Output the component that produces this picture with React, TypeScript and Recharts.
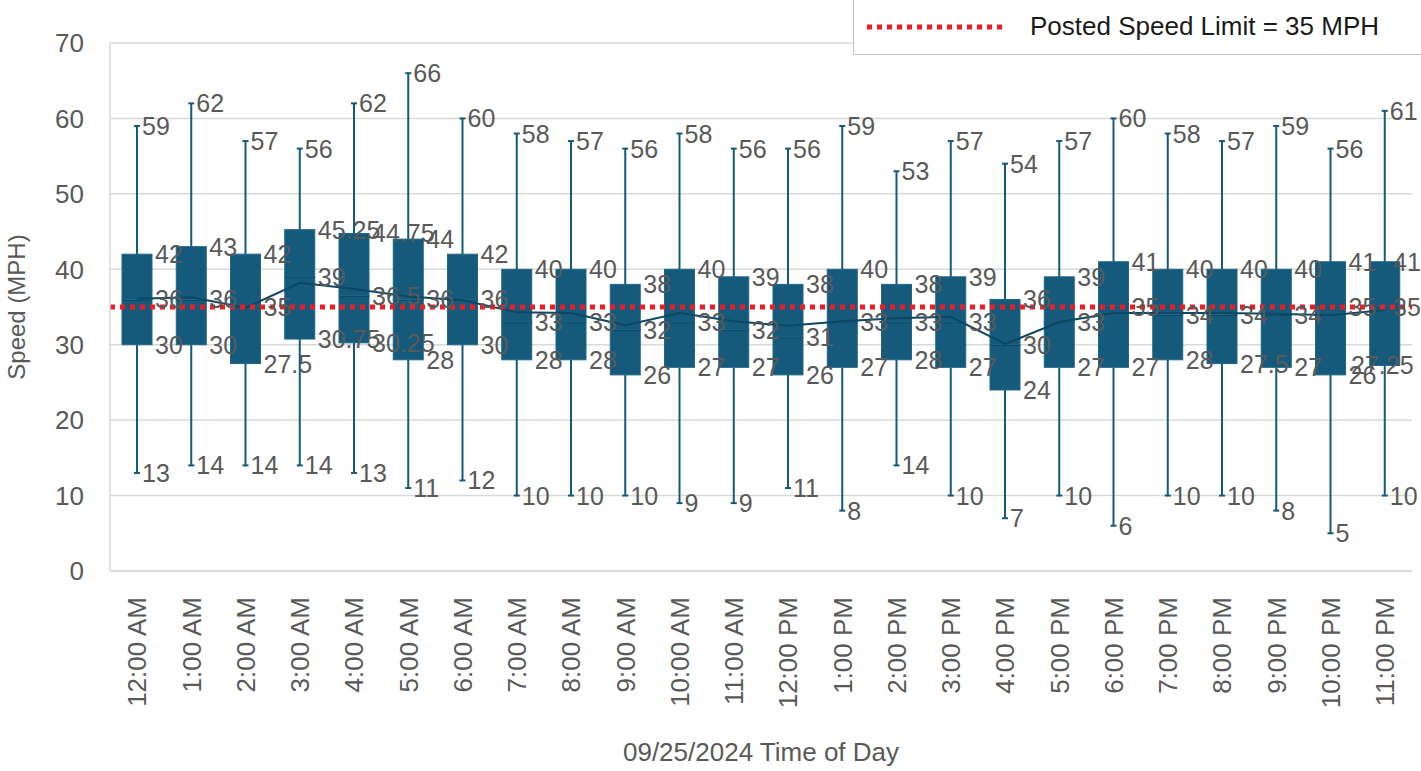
import { ComposedChart, Bar, Line, XAxis, YAxis, CartesianGrid, ReferenceLine, LabelList } from 'recharts';

const hours = [
  '12:00 AM', '1:00 AM', '2:00 AM', '3:00 AM', '4:00 AM', '5:00 AM',
  '6:00 AM', '7:00 AM', '8:00 AM', '9:00 AM', '10:00 AM', '11:00 AM',
  '12:00 PM', '1:00 PM', '2:00 PM', '3:00 PM', '4:00 PM', '5:00 PM',
  '6:00 PM', '7:00 PM', '8:00 PM', '9:00 PM', '10:00 PM', '11:00 PM',
];
const maxSpeed = [59, 62, 57, 56, 62, 66, 60, 58, 57, 56, 58, 56, 56, 59, 53, 57, 54, 57, 60, 58, 57, 59, 56, 61];
const q3Speed = [42, 43, 42, 45.25, 44.75, 44, 42, 40, 40, 38, 40, 39, 38, 40, 38, 39, 36, 39, 41, 40, 40, 40, 41, 41];
const medianSpeed = [36, 36, 35, 39, 36.5, 36, 36, 33, 33, 32, 33, 32, 31, 33, 33, 33, 30, 33, 35, 34, 34, 34, 35, 35];
const q1Speed = [30, 30, 27.5, 30.75, 30.25, 28, 30, 28, 28, 26, 27, 27, 26, 27, 28, 27, 24, 27, 27, 28, 27.5, 27, 26, 27.25];
const minSpeed = [13, 14, 14, 14, 13, 11, 12, 10, 10, 10, 9, 9, 11, 8, 14, 10, 7, 10, 6, 10, 10, 8, 5, 10];
const meanSpeed = [36.1, 36.3, 34.9, 38.2, 37.4, 36.4, 35.9, 34.3, 34.2, 32.6, 34.2, 33.1, 32.5, 33.1, 33.5, 33.7, 30.1, 33.0, 34.2, 34.2, 34.2, 34.1, 33.9, 34.6];
const speedTicks = [0, 10, 20, 30, 40, 50, 60, 70];
const speedLimit = 35;

const W = 1421;
const H = 771;
const BOX = '#155a7b';
const GREY = '#595959';
const FONT = '"Liberation Sans", Arial, sans-serif';

// stacked segments: base -> lower whisker -> lower box -> upper box -> upper whisker
const data = hours.map((hour, i) => ({
  hour,
  base: minSpeed[i],
  lowW: q1Speed[i] - minSpeed[i],
  lowBox: medianSpeed[i] - q1Speed[i],
  highBox: q3Speed[i] - medianSpeed[i],
  highW: maxSpeed[i] - q3Speed[i],
  mean: meanSpeed[i],
}));

const UpperWhisker = (p: any) => {
  const cx = p.x + p.width / 2;
  return (
    <g>
      <line x1={cx} x2={cx} y1={p.y} y2={p.y + p.height} stroke={BOX} strokeWidth={2} />
      <line x1={cx - 3} x2={cx + 3} y1={p.y} y2={p.y} stroke={BOX} strokeWidth={2} />
    </g>
  );
};

const LowerWhisker = (p: any) => {
  const cx = p.x + p.width / 2;
  const yb = p.y + p.height;
  return (
    <g>
      <line x1={cx} x2={cx} y1={p.y} y2={yb} stroke={BOX} strokeWidth={2} />
      <line x1={cx - 3} x2={cx + 3} y1={yb} y2={yb} stroke={BOX} strokeWidth={2} />
    </g>
  );
};

const BoxPart = (p: any) => (
  <rect x={p.x} y={p.y} width={p.width} height={p.height} fill={BOX} stroke="#1f6688" strokeWidth={1} />
);

// lower half of the box carries the median line on its top edge
const LowerBoxPart = (p: any) => (
  <g>
    <rect x={p.x} y={p.y} width={p.width} height={p.height} fill={BOX} stroke="#1f6688" strokeWidth={1} />
    <line x1={p.x} x2={p.x + p.width} y1={p.y} y2={p.y} stroke="#093a52" strokeWidth={2} />
  </g>
);

const makeLabel = (values: number[], edge: 'top' | 'bottom', side: 'whisker' | 'box') => (props: any) => {
  const vb = props.viewBox ?? props;
  const { x, y, width, height } = vb;
  const i = props.index;
  if (i == null || x == null) return null;
  const text = String(values[i]);
  let tx = side === 'whisker' ? x + width / 2 + 5 : x + width + 3;
  const tw = text.length * 14;
  if (tx + tw > W) tx = W - tw;
  const ty = edge === 'top' ? y : y + height;
  return (
    <text x={tx} y={ty} dy="0.36em" fontSize={25} fill={GREY} fontFamily={FONT}>
      {text}
    </text>
  );
};

const HourTick = ({ x, y, payload }: any) => {
  const ty = y + 18;
  return (
    <text
      x={x}
      y={ty}
      transform={`rotate(-90, ${x}, ${ty})`}
      textAnchor="end"
      dy="0.36em"
      fontSize={26}
      fill={GREY}
      fontFamily={FONT}
    >
      {payload.value}
    </text>
  );
};

const SpeedAxisTitle = ({ viewBox }: any) => {
  const cy = viewBox.y + viewBox.height / 2;
  return (
    <text x={16} y={cy} transform={`rotate(-90, 16, ${cy})`} textAnchor="middle" dy="0.36em" fontSize={24} fill={GREY} fontFamily={FONT}>
      Speed (MPH)
    </text>
  );
};

const TimeAxisTitle = ({ viewBox }: any) => (
  <text x={viewBox.x + viewBox.width / 2} y={752} textAnchor="middle" dy="0.36em" fontSize={26} fill={GREY} fontFamily={FONT}>
    09/25/2024 Time of Day
  </text>
);

export default function App() {
  return (
    <div style={{ position: 'absolute', left: 0, top: 0, width: W, height: H, background: '#fff', overflow: 'hidden', fontFamily: FONT }}>
      <ComposedChart width={W} height={H} data={data} margin={{ top: 43, right: 9, bottom: 0, left: 0 }}>
        <CartesianGrid vertical={false} stroke="#d9d9d9" strokeWidth={1.5} />
        <XAxis
          dataKey="hour"
          interval={0}
          height={200}
          tickLine={false}
          axisLine={{ stroke: '#d9d9d9', strokeWidth: 1.5 }}
          tick={<HourTick />}
          label={<TimeAxisTitle />}
        />
        <YAxis
          domain={[0, 70]}
          ticks={speedTicks}
          width={110}
          tickLine={false}
          axisLine={{ stroke: '#d9d9d9', strokeWidth: 1.5 }}
          tick={{ fontSize: 26, fill: GREY, fontFamily: FONT }}
          tickMargin={20}
          label={<SpeedAxisTitle />}
        />
        <Bar dataKey="base" stackId="box" barSize={30} fill="none" isAnimationActive={false} />
        <Bar dataKey="lowW" stackId="box" barSize={30} shape={<LowerWhisker />} isAnimationActive={false}>
          <LabelList content={makeLabel(minSpeed, 'bottom', 'whisker')} />
        </Bar>
        <Bar dataKey="lowBox" stackId="box" barSize={30} shape={<LowerBoxPart />} isAnimationActive={false}>
          <LabelList content={makeLabel(medianSpeed, 'top', 'box')} />
          <LabelList content={makeLabel(q1Speed, 'bottom', 'box')} />
        </Bar>
        <Bar dataKey="highBox" stackId="box" barSize={30} shape={<BoxPart />} isAnimationActive={false}>
          <LabelList content={makeLabel(q3Speed, 'top', 'box')} />
        </Bar>
        <Bar dataKey="highW" stackId="box" barSize={30} shape={<UpperWhisker />} isAnimationActive={false}>
          <LabelList content={makeLabel(maxSpeed, 'top', 'whisker')} />
        </Bar>
        <Line dataKey="mean" type="linear" stroke="#0c4764" strokeWidth={2} dot={false} activeDot={false} isAnimationActive={false} />
        <ReferenceLine y={speedLimit} stroke="#ee1c25" strokeWidth={5} strokeDasharray="5 5" />
      </ComposedChart>
      <div
        style={{
          position: 'absolute',
          left: 853,
          top: -2,
          width: 590,
          height: 57,
          border: '1px solid #c4c4c4',
          background: '#fff',
          display: 'flex',
          alignItems: 'center',
          boxSizing: 'border-box',
        }}
      >
        <svg width={145} height={10} style={{ marginLeft: 13 }}>
          <line x1={0} x2={140} y1={5} y2={5} stroke="#ee1c25" strokeWidth={5} strokeDasharray="5 5" />
        </svg>
        <span style={{ marginLeft: 18, fontSize: 26, color: '#1a1a1a', whiteSpace: 'nowrap' }}>Posted Speed Limit = 35 MPH</span>
      </div>
    </div>
  );
}
